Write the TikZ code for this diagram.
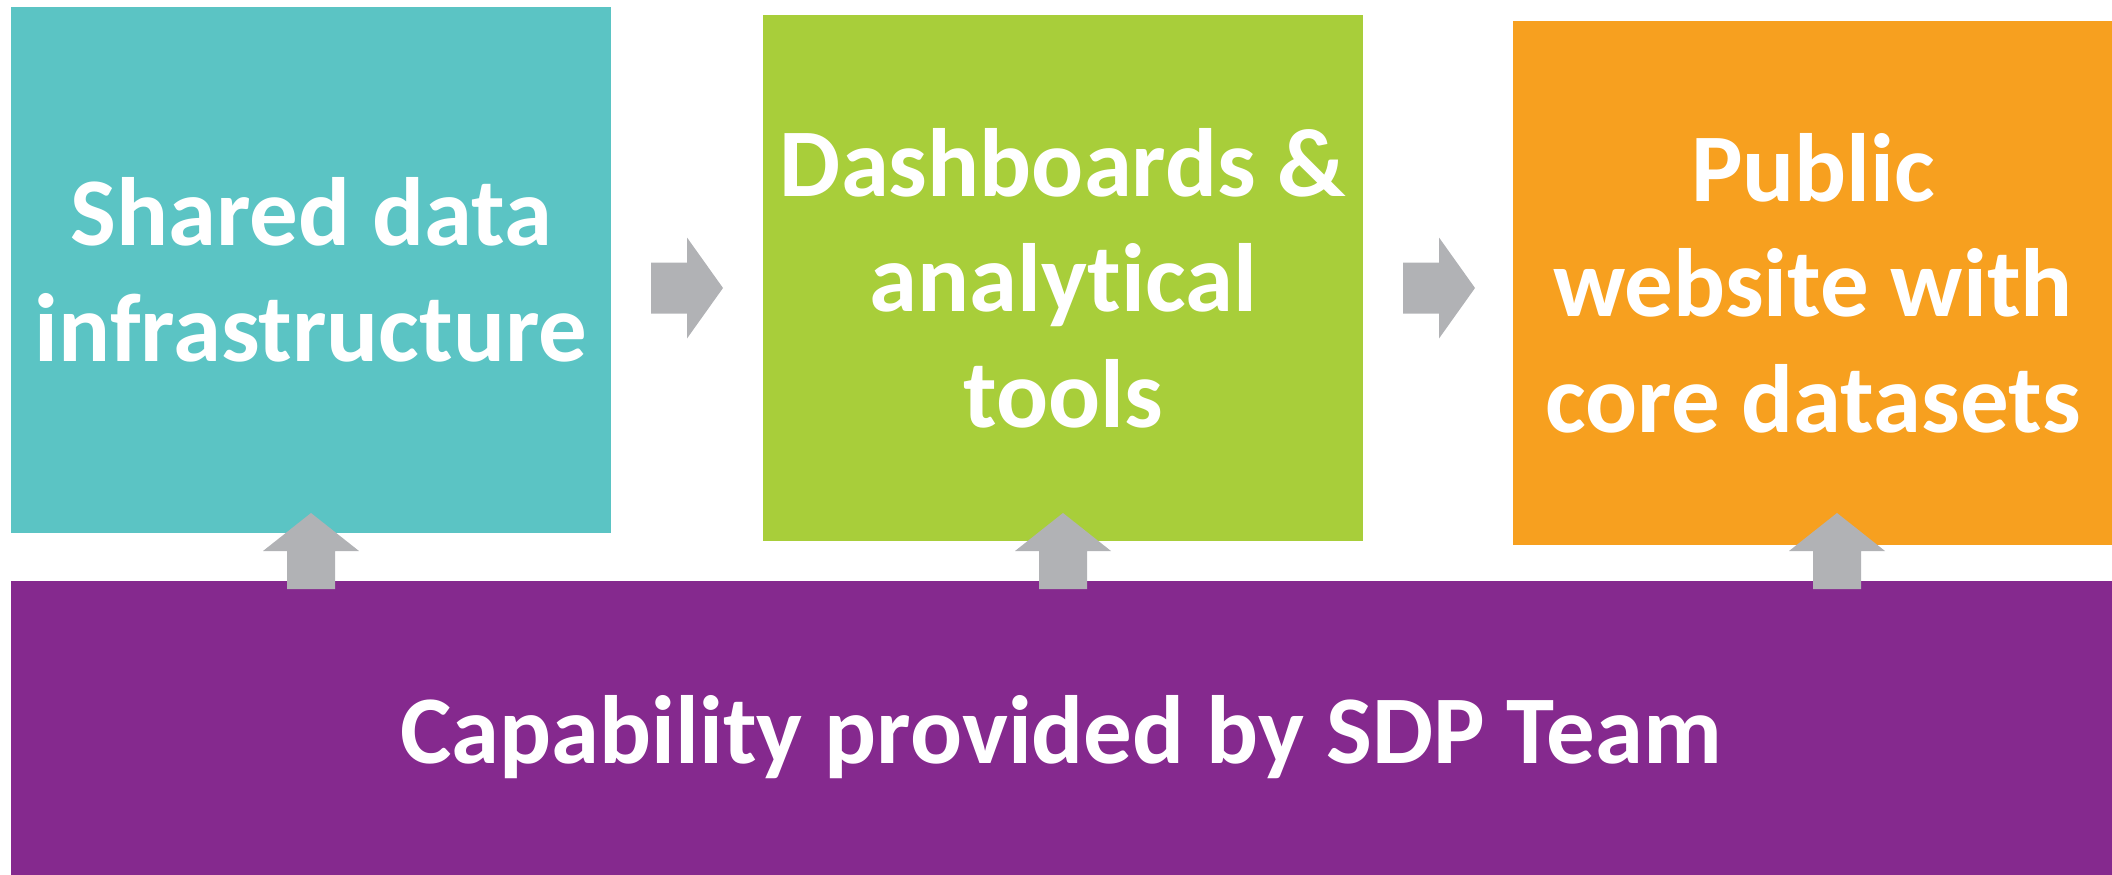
\documentclass[tikz,border=0pt]{standalone}
\usepackage{fontspec}
\setmainfont{Carlito}[Ligatures=NoCommon]
\definecolor{tealc}{HTML}{5BC4C4}
\definecolor{greenc}{HTML}{A8CE3A}
\definecolor{orangec}{HTML}{F7A01F}
\definecolor{purplec}{HTML}{85298E}
\definecolor{greyc}{HTML}{B1B2B5}
\begin{document}
\begin{tikzpicture}[x=1pt,y=-1pt,
  box/.style={rectangle, inner sep=0pt, draw=none, text=white, align=center,
    font=\fontsize{97}{115.6}\selectfont\bfseries},
  blockarrow/.style={fill=greyc, draw=none}]
\useasboundingbox (0,0) rectangle (2112,875);
\node[box, fill=tealc, minimum width=600pt, minimum height=526pt] (shared) at (311,270) {Shared data\\infrastructure};
\node[box, fill=greenc, minimum width=600pt, minimum height=526pt] (dash) at (1063,278) {Dashboards \&\\analytical\\tools};
\node[box, fill=orangec, minimum width=600pt, minimum height=524pt] (web) at (1813,283) {Public\\website with\\core datasets};
\node[box, fill=purplec, minimum width=2108pt, minimum height=300pt] (sdp) at (1065,731) {};
\node[box, anchor=base] (sdptext) at (1061,763) {Capability provided by SDP Team};
% right arrows
\fill[blockarrow, shift={(687,288)}] (-36,-25.5) -- (0,-25.5) -- (0,-50.5) -- (36,0) -- (0,50.5) -- (0,25.5) -- (-36,25.5) -- cycle;
\fill[blockarrow, shift={(1439,288)}] (-36,-25.5) -- (0,-25.5) -- (0,-50.5) -- (36,0) -- (0,50.5) -- (0,25.5) -- (-36,25.5) -- cycle;
% up arrows
\foreach \cx in {311,1063,1837}{
  \fill[blockarrow, shift={(\cx,513)}] (0,0) -- (48,38) -- (24,38) -- (24,76) -- (-24,76) -- (-24,38) -- (-48,38) -- cycle;
}
\end{tikzpicture}
\end{document}
